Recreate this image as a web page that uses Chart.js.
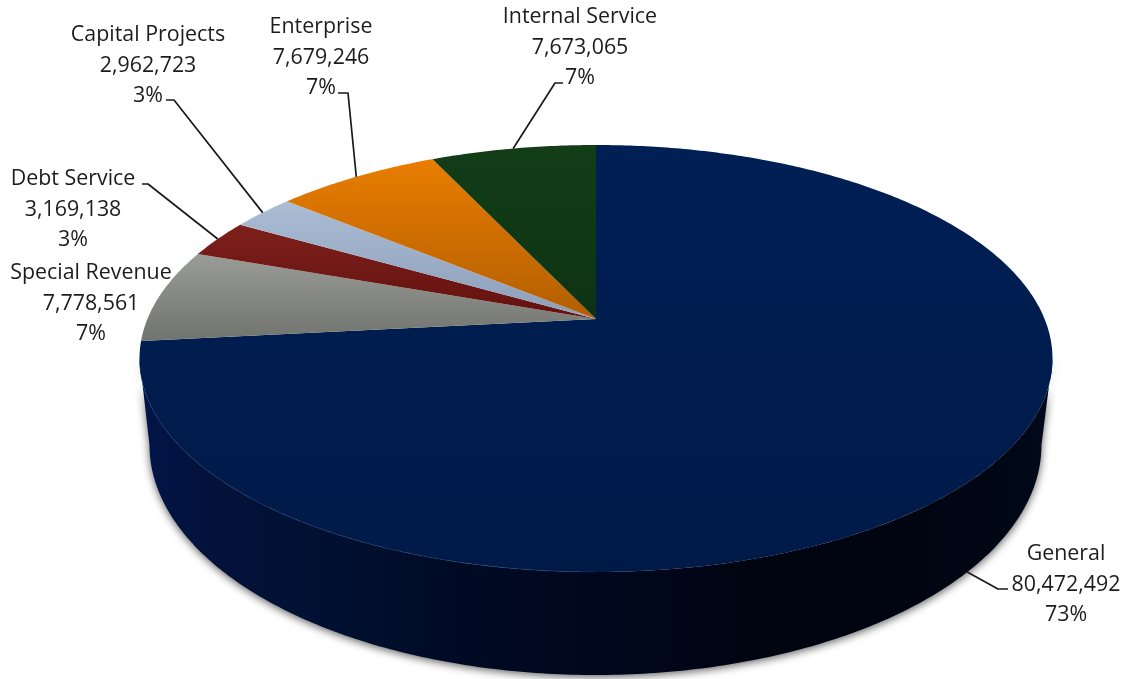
<!DOCTYPE html>
<html>
<head>
<meta charset="utf-8">
<title>Fund budget by type</title>
<script src="https://cdn.jsdelivr.net/npm/chart.js@4/dist/chart.umd.js"></script>
<style>
  html, body { margin: 0; padding: 0; background: #fff; }
  canvas { display: block; }
</style>
</head>
<body>
<canvas id="pie" width="1125" height="679"></canvas>
<script>
// Funds, clockwise from twelve o'clock
const funds = ['General', 'Special Revenue', 'Debt Service', 'Capital Projects', 'Enterprise', 'Internal Service'];
const amounts = [80472492, 7778561, 3169138, 2962723, 7679246, 7673065];

// Slice fills: lit colour at the top of each slice, shaded colour at the bottom
const fillTop = ['#001f55', '#9a9c97', '#7e201b', '#abbcd4', '#e97d00', '#123d17'];
const fillBottom = ['#001a48', '#71736e', '#62110f', '#8c9fb9', '#b25e03', '#0e3313'];

// Outer wall shading, left to right across the disc
const wallStops = [
  [0.00, '#021448'], [0.04, '#021342'], [0.08, '#02123a'], [0.18, '#011134'],
  [0.26, '#010e2c'], [0.35, '#000a24'], [0.50, '#00081e'], [0.66, '#000512'],
  [0.82, '#000410'], [0.94, '#000714'], [1.00, '#010a1c']
];

// Text block centres and first baselines, plus leader elbows, per slice
const labelCentreX = [1066, 91, 73, 148, 321, 580];
const labelTopY = [560, 279, 185, 41, 33, 23];
const labelLineGap = 30.5;
const leaderTail = [
  [[998, 589], [1008, 589]],
  null,
  [[148, 184], [142, 184]],
  [[174, 100], [166, 100]],
  [[348, 93], [338, 93]],
  [[555, 83], [563, 83]]
];

// Perspective view of the disc: top face and lower edge
const view = { cx: 596, apexY: 319, a: 448.6, b: 206.2, k: -0.185 };
const topEllipse = { cx: 595.5, cy: 358.5, rx: 456.5, ry: 213.5 };
const lowerEllipse = { cx: 595, cy: 445, rx: 446, ry: 230 };

function rimPoint(angle) {
  const u = Math.cos(angle), v = Math.sin(angle);
  const d = 1 + view.k * v;
  return { x: view.cx + view.a * u / d, y: view.apexY + view.b * v / d };
}

function lowerPoint(angle) {
  const p = rimPoint(angle);
  return {
    x: lowerEllipse.cx + lowerEllipse.rx * (p.x - topEllipse.cx) / topEllipse.rx,
    y: lowerEllipse.cy + lowerEllipse.ry * (p.y - topEllipse.cy) / topEllipse.ry
  };
}

function sampleArc(from, to, fn) {
  const steps = Math.max(2, Math.ceil(Math.abs(to - from) * 90));
  const pts = [];
  for (let i = 0; i <= steps; i++) pts.push(fn(from + (to - from) * i / steps));
  return pts;
}

function tracePolygon(ctx, pts) {
  ctx.beginPath();
  pts.forEach((p, i) => i ? ctx.lineTo(p.x, p.y) : ctx.moveTo(p.x, p.y));
  ctx.closePath();
}

// Arc element that renders its library-computed angles as a tilted 3D wedge
class TiltedArc extends Chart.ArcElement {
  static id = 'tiltedArc';

  draw(ctx) {
    const { startAngle, endAngle } = this;
    const { backgroundColor, borderColor } = this.options;
    const tangent = Math.asin(-view.k);
    const wallFrom = Math.max(startAngle, tangent);
    const wallTo = Math.min(endAngle, Math.PI - tangent);
    ctx.save();

    if (wallTo > wallFrom) {
      const upper = sampleArc(wallFrom, wallTo, rimPoint);
      const lower = sampleArc(wallTo, wallFrom, lowerPoint);
      const wall = ctx.createLinearGradient(139, 0, 1052, 0);
      wallStops.forEach(([at, colour]) => wall.addColorStop(at, colour));
      tracePolygon(ctx, upper.concat(lower));
      ctx.fillStyle = wall;
      ctx.shadowColor = 'rgba(0,0,0,0.62)';
      ctx.shadowBlur = 8;
      ctx.shadowOffsetY = 2;
      ctx.fill();
      ctx.shadowColor = 'transparent';
      ctx.shadowBlur = 0;
      ctx.shadowOffsetY = 0;
    }

    const apex = { x: view.cx, y: view.apexY };
    const edge = sampleArc(startAngle, endAngle, rimPoint);
    const pts = [apex].concat(edge);
    const ys = pts.map(p => p.y);
    const shade = ctx.createLinearGradient(0, Math.min(...ys), 0, Math.max(...ys));
    shade.addColorStop(0, backgroundColor);
    shade.addColorStop(1, borderColor);
    tracePolygon(ctx, pts);
    ctx.fillStyle = shade;
    ctx.fill();

    if (wallTo > wallFrom) {
      // Faint highlight where the top face meets the wall on the lit side
      const glint = ctx.createLinearGradient(150, 0, 680, 0);
      glint.addColorStop(0, 'rgba(25,55,120,0.25)');
      glint.addColorStop(0.7, 'rgba(40,70,130,0.45)');
      glint.addColorStop(1, 'rgba(40,70,130,0)');
      ctx.beginPath();
      sampleArc(Math.PI / 2, wallTo, rimPoint).forEach((p, i) => i ? ctx.lineTo(p.x, p.y) : ctx.moveTo(p.x, p.y));
      ctx.strokeStyle = glint;
      ctx.lineWidth = 1;
      ctx.stroke();
    }
    ctx.restore();
  }
}

class TiltedPieController extends Chart.PieController {
  static id = 'tiltedPie';
  static defaults = { dataElementType: 'tiltedArc' };
}

Chart.register(TiltedArc, TiltedPieController);

// Leader lines and the three-line labels
const fundLabels = {
  id: 'fundLabels',
  afterDatasetsDraw(chart) {
    const ctx = chart.ctx;
    const arcs = chart.getDatasetMeta(0).data;
    const total = amounts.reduce((s, v) => s + v, 0);
    ctx.save();
    ctx.strokeStyle = '#1a1a1a';
    ctx.lineWidth = 1.7;
    ctx.lineJoin = 'round';
    arcs.forEach((arc, i) => {
      const tail = leaderTail[i];
      if (!tail) return;
      const mid = (arc.startAngle + arc.endAngle) / 2;
      const onWall = Math.sin(mid) > 0.2;
      const anchor = onWall ? lowerPoint(mid) : rimPoint(mid);
      ctx.beginPath();
      ctx.moveTo(anchor.x, anchor.y);
      tail.forEach(([x, y]) => ctx.lineTo(x, y));
      ctx.stroke();
    });
    ctx.font = '21.4px "Open Sans"';
    ctx.fillStyle = '#1c1c1c';
    ctx.textAlign = 'center';
    ctx.textBaseline = 'alphabetic';
    funds.forEach((name, i) => {
      const lines = [name, amounts[i].toLocaleString('en-US'), Math.round(amounts[i] / total * 100) + '%'];
      lines.forEach((line, n) => ctx.fillText(line, labelCentreX[i], labelTopY[i] + n * labelLineGap));
    });
    ctx.restore();
  }
};

new Chart(document.getElementById('pie'), {
  type: 'tiltedPie',
  data: {
    labels: funds,
    datasets: [{
      data: amounts,
      backgroundColor: fillTop,
      borderColor: fillBottom,
      borderWidth: 0
    }]
  },
  options: {
    responsive: false,
    animation: false,
    plugins: { legend: { display: false }, tooltip: { enabled: false } }
  },
  plugins: [fundLabels]
});
</script>
</body>
</html>
